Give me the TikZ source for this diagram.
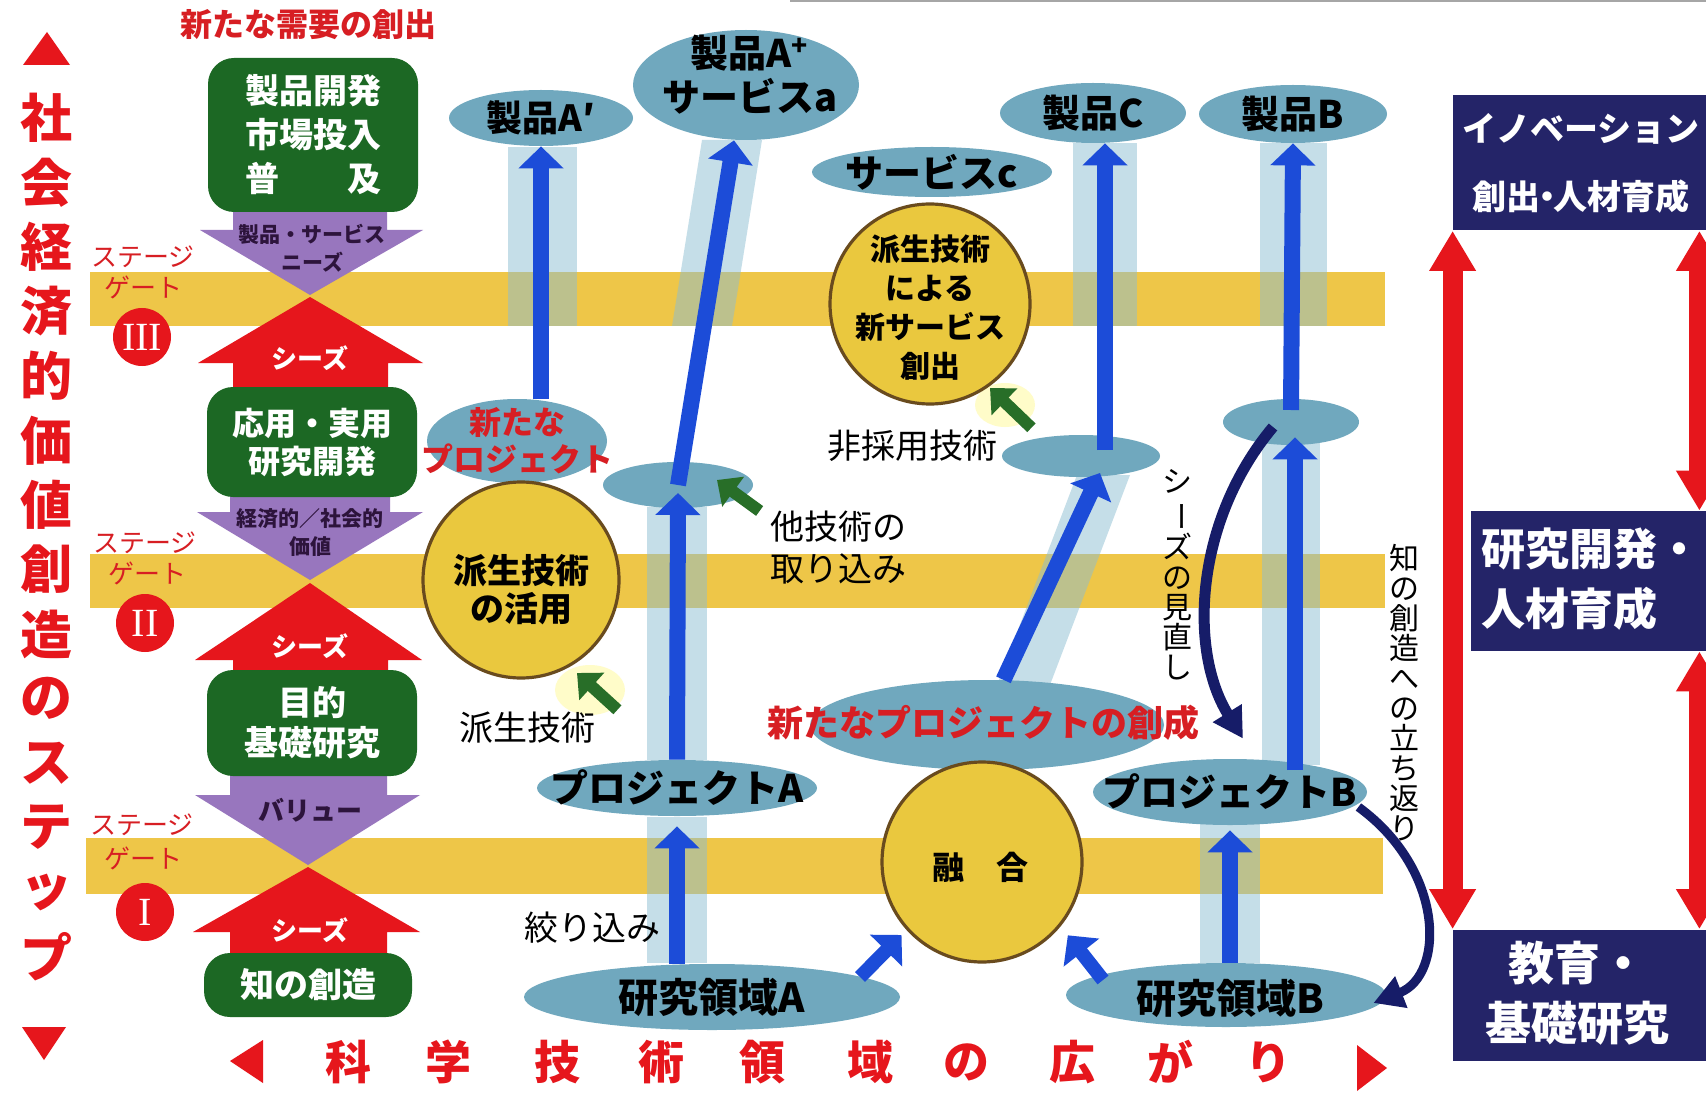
\documentclass[tikz,border=0pt]{standalone}
\usepackage{fontspec}
\setmainfont{Noto Sans CJK JP}
\newfontfamily\romanf{Liberation Serif}
\usetikzlibrary{arrows.meta,shapes.geometric,calc}
\definecolor{bandC}{RGB}{238,198,72}
\definecolor{ellC}{RGB}{112,168,190}
\definecolor{haloC}{RGB}{140,190,210}
\definecolor{yelC}{RGB}{234,200,62}
\definecolor{brownC}{RGB}{105,75,30}
\definecolor{greenC}{RGB}{28,104,36}
\definecolor{garrC}{RGB}{40,110,40}
\definecolor{purpC}{RGB}{152,118,190}
\definecolor{purpT}{RGB}{45,20,60}
\definecolor{redC}{RGB}{230,22,28}
\definecolor{redT}{RGB}{215,30,35}
\definecolor{blueC}{RGB}{28,76,216}
\definecolor{navyC}{RGB}{36,36,104}
\definecolor{navyA}{RGB}{22,28,104}
\newcommand\fsz[2]{\fontsize{#1pt}{#2pt}\selectfont}
\begin{document}
\begin{tikzpicture}[x=0.5pt,y=-0.5pt,
  ell/.style={ellipse, fill=ellC, inner sep=0pt},
  etext/.style={font=\bfseries\fsz{19}{22}, text=black, align=center, inner sep=0pt},
  ycirc/.style={circle, fill=yelC, draw=brownC, line width=1.6pt, inner sep=0pt},
  ctext/.style={font=\bfseries\fsz{16}{19}, text=black, align=center, inner sep=0pt},
  gbox/.style={rectangle, rounded corners=13pt, fill=greenC, text=white, font=\bfseries\fsz{17}{22}, align=center, inner sep=0pt, minimum width=105pt},
  bluearr/.style={draw=blueC, line width=8pt, -{Triangle[width=22pt,length=11pt]}},
  grarr/.style={draw=garrC, line width=6pt, -{Triangle[width=18pt,length=10pt]}},
  navyarr/.style={draw=navyA, line width=4.5pt, -{Triangle[width=16pt,length=15pt]}},
  redarr/.style={draw=redC, line width=10pt, {Triangle[width=22pt,length=20pt]}-{Triangle[width=22pt,length=20pt]}},
  halo/.style={fill=haloC, fill opacity=0.5},
  plain/.style={font=\fsz{17}{21}, text=black, align=left, inner sep=0pt},
  stg/.style={font=\fsz{13}{15}, text=redT, inner sep=0pt},
  rcirc/.style={circle, fill=redC, inner sep=0pt, minimum size=29pt, text=white, font=\romanf\fsz{20}{20}},
  seeds/.style={font=\bfseries\fsz{13}{15}, text=white, inner sep=0pt},
  ptext/.style={font=\bfseries\fsz{10.5}{14}, text=purpT, align=center, inner sep=0pt},
  nbox/.style={rectangle, fill=navyC, inner sep=0pt},
  ntext/.style={text=white, font=\bfseries\fsz{18}{32}, align=center, inner sep=0pt},
  vtext/.style={font=\fsz{15}{15}, text=black, align=center, inner sep=0pt},
  bigred/.style={font=\bfseries\fsz{26}{26}, text=redC, inner sep=0pt},
  botred/.style={font=\bfseries\fsz{23}{23}, text=redC, inner sep=0pt}
]
\useasboundingbox (0,0) rectangle (1706,1096);
\clip (0,0) rectangle (1706,1096);
\fill[white] (0,0) rectangle (1706,1096);
\draw[gray!70, line width=1pt] (790,1) -- (1706,1);

% stage-gate bands
\fill[bandC] (90,272) rectangle (1385,326);
\fill[bandC] (90,554) rectangle (1385,608);
\fill[bandC] (86,838) rectangle (1383,894);

% halos behind arrows
\fill[halo] (508,147) rectangle (577,326);
\fill[halo] (702,140) -- (762,140) -- (732,326) -- (672,326) -- cycle;
\fill[halo] (647,507) rectangle (707,760);
\fill[halo] (647,817) rectangle (707,963);
\fill[halo] (1073,143) rectangle (1137,326);
\fill[halo] (995,690) -- (1048,690) -- (1130,475) -- (1077,475) -- cycle;
\fill[halo] (1260,143) rectangle (1327,326);
\fill[halo] (1262,440) rectangle (1320,765);
\fill[halo] (1200,817) rectangle (1260,963);
\fill[yellow!35, opacity=0.6] (590,690) ellipse [x radius=35, y radius=25];
\fill[yellow!35, opacity=0.6] (1005,405) ellipse [x radius=30, y radius=22];

% left column: purple (down) and red (up) block arrows
\fill[purpC] (233,210) -- (387,210) -- (387,230) -- (423,230) -- (310,295) -- (200,230) -- (233,230) -- cycle;
\fill[purpC] (230,495) -- (390,495) -- (390,512) -- (423,512) -- (310,580) -- (197,512) -- (230,512) -- cycle;
\fill[purpC] (230,775) -- (387,775) -- (387,795) -- (420,795) -- (308,865) -- (195,795) -- (230,795) -- cycle;
\fill[redC] (310,297) -- (423,363) -- (388,363) -- (388,390) -- (233,390) -- (233,363) -- (198,363) -- cycle;
\fill[redC] (310,583) -- (422,660) -- (388,660) -- (388,672) -- (233,672) -- (233,660) -- (195,660) -- cycle;
\fill[redC] (308,867) -- (420,932) -- (387,932) -- (387,955) -- (230,955) -- (230,932) -- (193,932) -- cycle;

% green boxes
\node[gbox, minimum height=77pt] (g4) at (313,135) {製品開発\\市場投入\\普\hspace{2em}及};
\node[gbox, minimum height=55pt, font=\bfseries\fsz{16}{19}] (g3) at (312,442) {応用・実用\\研究開発};
\node[gbox, minimum height=53pt, font=\bfseries\fsz{17}{20}] (g2) at (312,723) {目的\\基礎研究};
\node[gbox, minimum height=32pt, minimum width=104pt] (g1) at (308,985) {知の創造};

\node[ptext] (p3t) at (312,248) {製品・サービス\\ニーズ};
\node[ptext] (p2t) at (310,533) {経済的／社会的\\価値};
\node[ptext, font=\bfseries\fsz{13}{15}] (p1t) at (310,810) {バリュー};
\node[seeds] (s3) at (310,358) {シーズ};
\node[seeds] (s2) at (310,646) {シーズ};
\node[seeds] (s1) at (310,930) {シーズ};

\node[stg] (st3a) at (143,257) {ステージ};
\node[stg] (st3b) at (143,287) {ゲート};
\node[rcirc] (c3) at (142,337) {III};
\node[stg] (st2a) at (145,543) {ステージ};
\node[stg] (st2b) at (147,573) {ゲート};
\node[rcirc] (c2) at (145,623) {II};
\node[stg] (st1a) at (142,825) {ステージ};
\node[stg] (st1b) at (143,858) {ゲート};
\node[rcirc] (c1) at (145,912) {I};

\node[font=\bfseries\fsz{16}{16}, text=redT, inner sep=0pt] (demand) at (308,25) {新たな需要の創出};

% left vertical title and triangles
\fill[redC] (47,32) -- (70,65) -- (23,65) -- cycle;
\fill[redC] (44,1060) -- (66,1027) -- (22,1027) -- cycle;
\foreach \c [count=\i from 0] in {社,会,経,済,的,価,値,創,造,の,ス,テ,ッ,プ}
  \node[bigred] (vt\i) at (46,{118+64.5*\i}) {\c};

% bottom title
\fill[redC] (230,1061) -- (263,1040) -- (263,1083) -- cycle;
\fill[redC] (1387,1068) -- (1357,1045) -- (1357,1091) -- cycle;
\foreach \c/\x [count=\i] in {科/348,学/448,技/557,術/661,領/762,域/870,の/966,広/1072,が/1170,り/1268}
  \node[botred] (bt\i) at (\x,1062) {\c};

% ellipses
\node[ell, minimum width=92pt, minimum height=28pt] (prodAp) at (541,118) {};
\node[ell, minimum width=113pt, minimum height=55pt] (prodAplus) at (746,85) {};
\node[ell, minimum width=120pt, minimum height=25pt] (servC) at (932,172) {};
\node[ell, minimum width=93pt, minimum height=30pt] (prodC) at (1093,113) {};
\node[ell, minimum width=94pt, minimum height=29pt] (prodB) at (1293,114) {};
\node[ell, minimum width=90pt, minimum height=42pt] (newProj) at (517,441) {};
\node[ell, minimum width=75pt, minimum height=23pt] (smallA) at (678,485) {};
\node[ell, minimum width=79pt, minimum height=21pt] (smallC) at (1081,456) {};
\node[ell, minimum width=68pt, minimum height=23pt] (smallB) at (1291,422) {};
\node[ell, minimum width=177pt, minimum height=45pt] (creation) at (987,725) {};
\node[ell, minimum width=140pt, minimum height=28pt] (projA) at (677,788) {};
\node[ell, minimum width=137pt, minimum height=33pt] (projB) at (1230,792) {};
\node[ell, minimum width=188pt, minimum height=33pt] (areaA) at (712,997) {};
\node[ell, minimum width=160pt, minimum height=32pt] (areaB) at (1226,995) {};

% yellow circles
\node[ycirc, minimum size=98pt] (deriv1) at (521,580) {};
\node[ycirc, minimum size=100pt] (deriv2) at (930,304) {};
\node[ycirc, minimum size=100pt] (fusion) at (982,862) {};

% blue arrows
\draw[bluearr] (prodAp |- newProj.north) -- (prodAp.south);
\draw[bluearr] (smallA.center) -- ($(prodAplus.south)+(-12,0)$);
\draw[bluearr] (projA.north) -- ($(smallA.center)+(0,8)$);
\draw[bluearr] (projA |- areaA.north) -- ($(projA.south)+(0,10)$);
\draw[bluearr] (creation.70) -- ($(smallC.center)+(19,17)$);
\draw[bluearr] ($(smallC.center)+(24,-6)$) -- ($(prodC.south)+(12,0)$);
\draw[bluearr] ($(smallB.center)+(0,-12)$) -- (prodB.south);
\draw[bluearr] ($(projB.center)+(65,-22)$) -- ($(smallB.south)+(4,-8)$);
\draw[bluearr] (projB |- areaB.north) -- ($(projB.south)+(0,5)$);
\draw[bluearr, line width=7pt] ($(areaA.center)+(148,-20)$) -- ($(fusion.222)+(-5,5)$);
\draw[bluearr, line width=7pt] ($(areaB.center)+(-123,-15)$) -- ($(fusion.-40)+(8,8)$);

% labels with green arrows
\node[plain] (otherTech) at (838,548) {他技術の\\取り込み};
\coordinate (otherTip) at (717,480);
\draw[grarr] ($(otherTech.north west)+(-10,0)$) -- (otherTip);
\node[plain] (derivLbl) at (527,728) {派生技術};
\coordinate (derivTip) at (577,673);
\draw[grarr] ($(derivLbl.north east)+(22,-2)$) -- (derivTip);
\node[plain] (nonAdopt) at (912,446) {非採用技術};
\coordinate (nonTip) at (990,388);
\draw[grarr] ($(nonAdopt.north east)+(34,-2)$) -- (nonTip);
\node[plain] (narrow) at (592,928) {絞り込み};

% navy curved arrows
\draw[navyarr, line width=5.5pt] ($(smallB.center)+(-18,5)$) .. controls (1195,520) and (1188,650) .. ($(projB.north)+(13,-20)$);
\draw[navyarr] ($(projB.east)+(-9,15)$) .. controls (1445,870) and (1445,975) .. ($(areaB.east)+(-13,8)$);
\node[vtext] (reviewT) at (1177,575) {シ\\\rotatebox[origin=c]{-90}{ー}\\ズ\\の\\見\\直\\し};
\node[vtext] (returnT) at (1404,693) {知\\の\\創\\造\\へ\\の\\立\\ち\\返\\り};

% texts on ellipses and circles
\node[etext, font=\bfseries\fsz{18}{22}] (tAp) at (prodAp) {製品A′};
\node[etext, font=\bfseries\fsz{19}{22}] (tAplus) at (750,75) {製品A\textsuperscript{+}\\サービスa};
\node[etext] (tServC) at (servC) {サービスc};
\node[etext] (tC) at (prodC) {製品C};
\node[etext] (tB) at (prodB) {製品B};
\node[etext, text=redT, font=\bfseries\fsz{16}{18.5}] (tNewProj) at (newProj) {新たな\\プロジェクト};
\node[etext, text=redT, font=\bfseries\fsz{18}{20}] (tCreation) at (983,723) {新たなプロジェクトの創成};
\node[etext] (tProjA) at (projA) {プロジェクトA};
\node[etext] (tProjB) at (projB) {プロジェクトB};
\node[etext, font=\bfseries\fsz{20}{22}] (tAreaA) at (areaA) {研究領域A};
\node[etext, font=\bfseries\fsz{20}{22}] (tAreaB) at (1230,998) {研究領域B};
\node[ctext, font=\bfseries\fsz{17}{19}] (tDeriv1) at (521,590) {派生技術\\の活用};
\node[ctext, font=\bfseries\fsz{15}{19.5}] (tDeriv2) at (930,308) {派生技術\\による\\新サービス\\創出};
\node[ctext] (tFusion) at (980,867) {融\hspace{1em}合};

% right column
\node[nbox, minimum width=134pt, minimum height=67.5pt] (navy1) at (1587,163) {};
\node[nbox, minimum width=125pt, minimum height=70pt] (navy2) at (1596,581) {};
\node[nbox, minimum width=134pt, minimum height=65.5pt] (navy3) at (1587,995) {};
\node[ntext, font=\bfseries\fsz{17}{34}] (n1t) at (1581,163) {イノベーション\\創出{\kern-.3em}・{\kern-.3em}人材育成};
\node[ntext, font=\bfseries\fsz{22}{30}, align=left, anchor=west] (n2t) at (1481,579) {研究開発・\\人材育成};
\node[ntext, font=\bfseries\fsz{23}{30}] (n3t) at (1577,993) {教育・\\基礎研究};
\draw[redarr] (navy1.south west) -- (navy3.north west);
\draw[redarr] ($(navy1.south east)+(-22,0)$) -- ($(navy2.north east)+(-22,0)$);
\draw[redarr] ($(navy2.south east)+(-22,0)$) -- ($(navy3.north east)+(-22,0)$);
\end{tikzpicture}
\end{document}
